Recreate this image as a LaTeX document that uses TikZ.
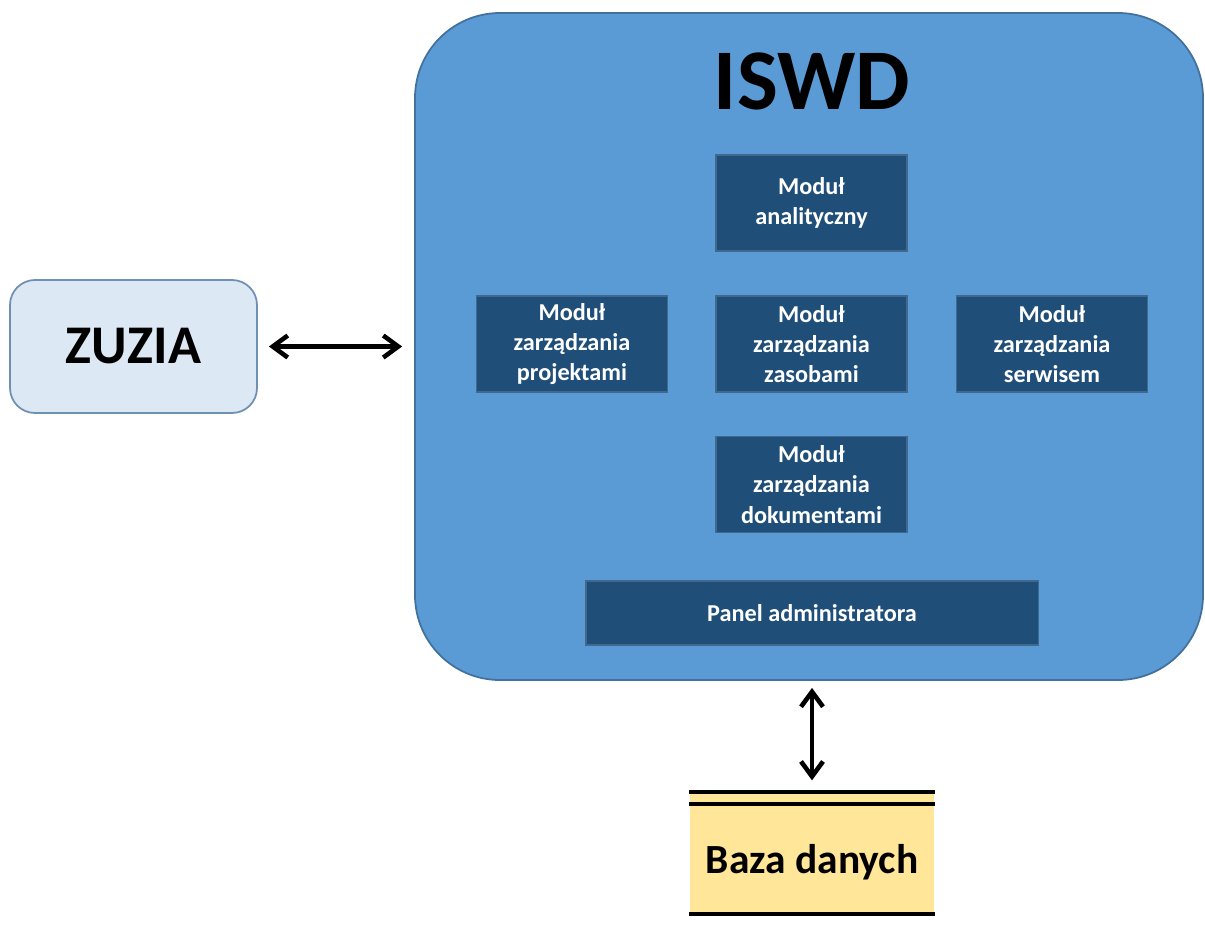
\documentclass[tikz,border=0pt]{standalone}
\usepackage{fontspec}
\setmainfont{Carlito}
\usetikzlibrary{arrows.meta}

\definecolor{sysblue}{HTML}{5B9BD5}
\definecolor{sysedge}{HTML}{41719C}
\definecolor{modblue}{HTML}{1F4E79}
\definecolor{zuzblue}{HTML}{DDE8F5}
\definecolor{zuzedge}{HTML}{6F8FB3}
\definecolor{dbyellow}{HTML}{FFE699}

\begin{document}
\begin{tikzpicture}[
    modul/.style={fill=modblue, draw=modblue!85!white, line width=0.3pt, text=white,
      font=\bfseries\fontsize{6.9}{8.6}\selectfont, align=center,
      minimum width=1.91cm, minimum height=0.96cm, inner sep=0pt},
    dwa/.style={{Straight Barb[length=1.5mm,width=2.2mm]}-{Straight Barb[length=1.5mm,width=2.2mm]}, line width=1.3pt}
  ]
  \useasboundingbox (0,0) rectangle (12.05,-9.24);

  % system
  \node[fill=sysblue, draw=sysedge, line width=0.5pt, rounded corners=0.85cm,
        minimum width=7.88cm, minimum height=6.67cm, inner sep=0pt] (iswd) at (8.09,-3.465) {};
  \node[font=\bfseries\fontsize{24.6}{28}\selectfont] (tytul) at (8.12,-0.81) {ISWD};

  \node[modul] (anal) at (8.115,-2.03) {Moduł\\analityczny};
  \node[modul] (proj) at (5.72,-3.44)  {Moduł\\zarządzania\\projektami};
  \node[modul] (zas)  at (8.115,-3.44) {Moduł\\zarządzania\\zasobami};
  \node[modul] (serw) at (10.52,-3.44) {Moduł\\zarządzania\\serwisem};
  \node[modul] (dok)  at (8.115,-4.845) {Moduł\\zarządzania\\dokumentami};
  \node[modul, minimum width=4.52cm, minimum height=0.64cm] (panel) at (8.12,-6.13) {Panel administratora};

  % ZUZIA
  \node[fill=zuzblue, draw=zuzedge, line width=0.5pt, rounded corners=0.25cm,
        minimum width=2.47cm, minimum height=1.33cm, inner sep=0pt,
        font=\bfseries\fontsize{15.5}{18}\selectfont] (zuzia) at (1.335,-3.465) {ZUZIA};

  % baza
  \node[fill=dbyellow, minimum width=2.44cm, minimum height=1.20cm, inner sep=0pt,
        text height=11.4pt, text depth=0pt,
        font=\bfseries\fontsize{11.8}{14}\selectfont] (baza) at (8.12,-8.53) {Baza danych};
  \draw[line width=1.2pt] (baza.north west) -- (baza.north east);
  \draw[line width=1.2pt] ([yshift=-0.12cm]baza.north west) -- ([yshift=-0.12cm]baza.north east);
  \draw[line width=1.2pt] (baza.south west) -- (baza.south east);

  \draw[dwa, shorten <=0.11cm, shorten >=0.12cm] (zuzia.east) -- (iswd.west);
  \draw[dwa, shorten <=0.12cm, shorten >=0.07cm] (baza.north) -- (baza.north |- iswd.south);
\end{tikzpicture}
\end{document}
